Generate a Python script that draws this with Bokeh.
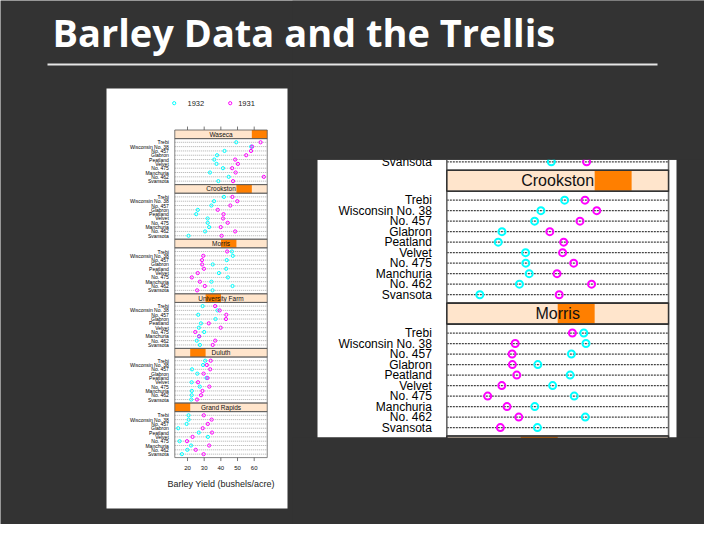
import numpy as np
from bokeh.plotting import figure
from bokeh.models import Range1d
from bokeh.core.properties import value
from bokeh.embed import file_html
from bokeh.resources import INLINE

# ---------------- data ----------------
title_text = "Barley Data and the Trellis"
sites = ["Waseca", "Crookston", "Morris", "University Farm", "Duluth", "Grand Rapids"]
varieties = ["Trebi", "Wisconsin No. 38", "No. 457", "Glabron", "Peatland",
             "Velvet", "No. 475", "Manchuria", "No. 462", "Svansota"]
years = ["1932", "1931"]

waseca_1931 = [63.83, 58.80, 58.10, 55.20, 48.57, 50.23, 46.77, 48.87, 65.77, 47.33]
waseca_1932 = [49.23, 58.17, 42.20, 37.73, 36.03, 37.40, 41.27, 33.47, 44.70, 38.50]
crookston_1931 = [46.93, 49.87, 45.67, 38.13, 41.60, 41.33, 44.10, 39.93, 48.57, 40.47]
crookston_1932 = [41.83, 35.90, 34.33, 26.17, 25.23, 32.07, 32.13, 32.97, 30.53, 20.63]
morris_1931 = [43.77, 29.47, 28.70, 28.77, 29.87, 26.13, 22.60, 27.43, 30.37, 25.77]
morris_1932 = [46.63, 47.17, 43.53, 35.13, 43.20, 38.83, 44.23, 34.37, 47.00, 35.03]
univfarm_1931 = [36.57, 39.30, 43.27, 43.07, 32.77, 39.90, 24.67, 27.00, 36.60, 35.13]
univfarm_1932 = [29.07, 38.00, 26.43, 36.80, 28.07, 26.80, 30.00, 26.90, 25.57, 27.43]
duluth_1931 = [33.93, 31.60, 33.60, 29.67, 32.00, 26.30, 33.07, 28.97, 28.10, 25.70]
duluth_1932 = [30.60, 29.33, 22.70, 25.87, 31.37, 22.47, 27.37, 22.57, 22.50, 22.23]
grandrapids_1931 = [29.77, 34.47, 32.17, 29.13, 34.70, 23.03, 19.70, 32.97, 24.93, 29.67]
grandrapids_1932 = [20.63, 20.67, 19.47, 14.43, 26.77, 32.23, 15.23, 22.13, 19.90, 16.63]

yields_1931 = [waseca_1931, crookston_1931, morris_1931, univfarm_1931, duluth_1931, grandrapids_1931]
yields_1932 = [waseca_1932, crookston_1932, morris_1932, univfarm_1932, duluth_1932, grandrapids_1932]

x_ticks = [20, 30, 40, 50, 60]
x_label = "Barley Yield (bushels/acre)"

# ---------------- style / layout ----------------
BG = "#333333"
PEACH = "#ffe5cc"
ORANGE = "#ff7f00"
CYAN = "#00ffff"
MAGENTA = "#ff00ff"
FONT = "Liberation Sans"
PITCH, STRIP, PAD = 12.65, 2.0, 0.85
XLO, XHI = 12.38, 67.82

p = figure(width=704, height=524, output_backend="svg", toolbar_location=None,
           x_range=Range1d(8, 712), y_range=Range1d(532, 8),
           x_axis_type=None, y_axis_type=None, min_border=0,
           background_fill_color=BG, border_fill_color=BG, outline_line_color=None)


def linmap(v0, px0, v1, px1, lo_px, hi_px):
    k = (v1 - v0) / (px1 - px0)
    return Range1d(start=v0 + (lo_px - px0) * k, end=v0 + (hi_px - px0) * k)


p.extra_x_ranges = {"lx": linmap(20, 195.0, 60, 261.7, 8, 712),
                    "rx": linmap(20, 484.8, 60, 644.8, 8, 712)}
p.extra_y_ranges = {"ly": linmap(0, 137.5, 6 * PITCH, 465.1, 532, 8),
                    "ry": linmap(PITCH, 177.7, 2 * PITCH, 310.6, 532, 8)}

# white "images"
p.quad(left=[114, 325], right=[295, 684], top=[96, 167.3], bottom=[516, 445],
       fill_color="white", line_color=None)


def draw_view(xr, yr, st, frame_panels, strip_panels, strip_text_panels, rows):
    kw = dict(x_range_name=xr, y_range_name=yr)
    nlev = len(sites)
    w = (XHI - XLO) / nlev
    # strips
    k = np.array(strip_panels)
    tops = k * PITCH
    lev = nlev - k
    p.quad(left=XLO, right=XHI, top=tops, bottom=tops + STRIP, fill_color=PEACH, line_color=None, **kw)
    p.quad(left=XLO + (lev - 1) * w, right=XLO + lev * w, top=tops, bottom=tops + STRIP,
           fill_color=ORANGE, line_color=None, **kw)
    kt = np.array(strip_text_panels)
    p.text(x=(XLO + XHI) / 2, y=kt * PITCH + STRIP / 2, text=[sites[j] for j in strip_text_panels],
           text_align="center", text_baseline="middle", text_font=value(FONT),
           text_font_size=st["strip_fs"], text_color="#111111", **kw)
    # rows
    ys, labels, x32, x31 = [], [], [], []
    for kk, i in rows:
        ys.append(kk * PITCH + STRIP + PAD + i)
        labels.append(varieties[i])
        x32.append(yields_1932[kk][i])
        x31.append(yields_1931[kk][i])
    p.segment(x0=XLO, x1=XHI, y0=ys, y1=ys, line_color=st["dot_col"], line_width=st["dot_w"],
              line_dash=st["dash"], **kw)
    p.text(x=XLO, y=ys, text=labels, x_offset=st["lab_off"], text_align="right",
           text_baseline="middle", text_font=value(FONT), text_font_size=st["lab_fs"],
           text_color="#000000", **kw)
    p.scatter(x=x32, y=ys, marker="circle", size=st["pt"], fill_color=None,
              line_color=CYAN, line_width=st["plw"], **kw)
    p.scatter(x=x31, y=ys, marker="circle", size=st["pt"], fill_color=None,
              line_color=MAGENTA, line_width=st["plw"], **kw)
    # frames
    kf = np.array(frame_panels)
    p.quad(left=XLO, right=XHI, top=kf * PITCH + STRIP, bottom=kf * PITCH + PITCH, fill_color=None,
           line_color=st["frame"], line_width=st["flw"], **kw)
    p.quad(left=XLO, right=XHI, top=tops, bottom=tops + STRIP, fill_color=None,
           line_color=st["strip_line"], line_width=st["flw"], **kw)


left_style = dict(strip_fs="6.5px", lab_fs="5px", lab_off=-6, pt=3.2, plw=1,
                  dot_col="#8a8a8a", dot_w=0.7, dash="1 1", frame="#666666",
                  strip_line="#555555", flw=0.8)
right_style = dict(strip_fs="16px", lab_fs="12px", lab_off=-15, pt=7, plw=2,
                   dot_col="#444444", dot_w=1.3, dash="2 1", frame="#666666",
                   strip_line="#333333", flw=1.6)

all_panels = list(range(len(sites)))
all_rows = [(kk, i) for kk in all_panels for i in range(len(varieties))]
draw_view("lx", "ly", left_style, all_panels, all_panels, all_panels, all_rows)

# zoomed view: last row of Waseca, all of Crookston and Morris, top of University Farm
zoom_rows = [(0, len(varieties) - 1)] + [(kk, i) for kk in (1, 2) for i in range(len(varieties))]
draw_view("rx", "ry", right_style, [0, 1, 2, 3], [1, 2, 3], [1, 2], zoom_rows)

# left view: ticks, tick labels, axis label, legend
bottom_u = len(sites) * PITCH
p.segment(x0=x_ticks, x1=x_ticks, y0=0, y1=-0.8, line_color="#555555", line_width=0.8,
          x_range_name="lx", y_range_name="ly")
p.segment(x0=x_ticks, x1=x_ticks, y0=bottom_u, y1=bottom_u + 0.8, line_color="#555555",
          line_width=0.8, x_range_name="lx", y_range_name="ly")
p.text(x=x_ticks, y=bottom_u + 2.3, text=[str(t) for t in x_ticks], text_align="center",
       text_baseline="middle", text_font=value(FONT), text_font_size="6px",
       text_color="#111111", x_range_name="lx", y_range_name="ly")
p.text(x=[228.5], y=[491.7], text=[x_label], text_align="center", text_baseline="middle",
       text_font=value(FONT), text_font_size="9px", text_color="#222222")
p.scatter(x=[181.7, 237.7], y=[110.7, 110.7], marker="circle", size=3.2, fill_color=None,
          line_color=[CYAN, MAGENTA], line_width=1)
p.text(x=[195, 245.7], y=[110.7, 110.7], text=years, text_align="left", text_baseline="middle",
       text_font=value(FONT), text_font_size="7.5px", text_color="#222222")

# mask (crop of the zoomed image)
p.quad(left=[300, 300], right=[712, 712], top=[8, 445], bottom=[167.3, 532],
       fill_color=BG, line_color=None)

# title and rule
p.text(x=[60], y=[39], text=[title_text], text_align="left", text_baseline="middle",
       text_font=value("Open Sans"), text_font_style="bold", text_font_size="38px",
       text_color="white")
p.segment(x0=[55], x1=[665], y0=[72], y1=[72], line_color="#e6e6e6", line_width=2)

open("out.html", "w").write(file_html(p, INLINE))
